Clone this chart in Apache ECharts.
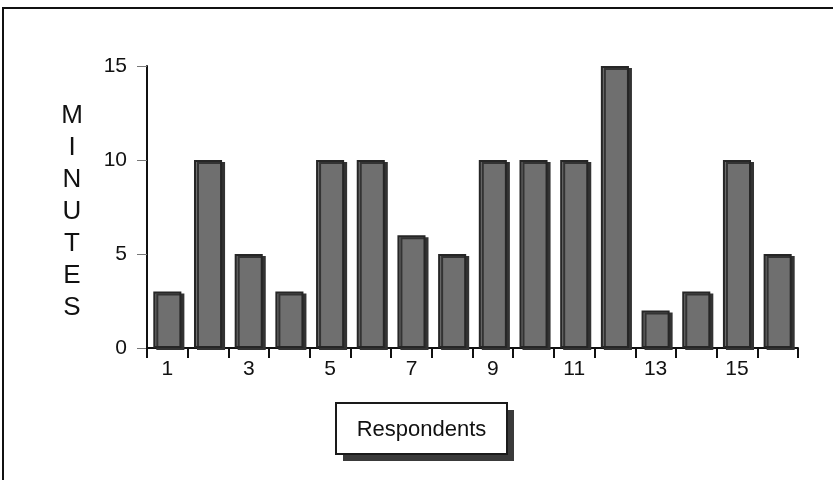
<!DOCTYPE html>
<html>
<head>
<meta charset="utf-8">
<style>
  html, body { margin: 0; padding: 0; background: #fff; }
  #chart { width: 833px; height: 480px; }
</style>
<script src="https://cdn.jsdelivr.net/npm/echarts@6/dist/echarts.min.js"></script>
</head>
<body>
<div id="chart"></div>
<script>
// Minutes reported by each respondent
const respondents = ['1','2','3','4','5','6','7','8','9','10','11','12','13','14','15','16'];
const minutes = [3, 10, 5, 3, 10, 10, 6, 5, 10, 10, 10, 15, 2, 3, 10, 5];
const yTicks = { min: 0, max: 15, interval: 5 };
const axisTitle = 'Respondents';
const valueTitle = 'MINUTES';

const FONT = '"Liberation Sans", Arial, Helvetica, sans-serif';
const chart = echarts.init(document.getElementById('chart'), null, { renderer: 'canvas' });

chart.setOption({
  backgroundColor: '#ffffff',
  animation: false,
  grid: { left: 147, right: 35, top: 66, bottom: 132, containLabel: false },
  xAxis: {
    type: 'category',
    data: respondents,
    boundaryGap: true,
    axisLine: { lineStyle: { color: '#111', width: 2 } },
    axisTick: { show: true, interval: 0, length: 10, inside: false, lineStyle: { color: '#111', width: 2 } },
    axisLabel: { interval: 1, margin: 11, fontFamily: FONT, fontSize: 21, color: '#111' },
    splitLine: { show: false }
  },
  yAxis: {
    type: 'value',
    min: yTicks.min,
    max: yTicks.max,
    interval: yTicks.interval,
    axisLine: { show: true, lineStyle: { color: '#111', width: 2 } },
    axisTick: { show: true, length: 10, lineStyle: { color: '#777', width: 1 } },
    axisLabel: { margin: 20, fontFamily: FONT, fontSize: 21, color: '#111' },
    splitLine: { show: false }
  },
  series: [{
    type: 'bar',
    data: minutes,
    barWidth: '69%',
    itemStyle: {
      color: '#6f6f6f',
      borderColor: '#262626',
      borderWidth: 2,
      shadowColor: '#333333',
      shadowBlur: 0,
      shadowOffsetX: 3,
      shadowOffsetY: 2
    }
  }],
  graphic: [
    {
      // page frame
      type: 'rect',
      silent: true,
      shape: { x: 3, y: 8, width: 900, height: 600 },
      style: { fill: 'none', stroke: '#111', lineWidth: 2 }
    },
    {
      // vertical value-axis title, one letter per line
      type: 'text',
      x: 72,
      y: 212,
      style: {
        text: valueTitle.split('').join('\n'),
        fontFamily: FONT, fontSize: 26, lineHeight: 32, fill: '#111',
        align: 'center', verticalAlign: 'middle'
      }
    },
    {
      // caption box with drop shadow
      type: 'group',
      left: 335,
      top: 402,
      children: [
        { type: 'rect', shape: { x: 7, y: 7, width: 171, height: 51 }, style: { fill: '#3a3a3a' } },
        { type: 'rect', shape: { x: 0, y: 0, width: 171, height: 51 }, style: { fill: '#ffffff', stroke: '#1a1a1a', lineWidth: 2 } },
        { type: 'text', x: 85.5, y: 27, style: { text: axisTitle, fontFamily: FONT, fontSize: 22, fill: '#111', align: 'center', verticalAlign: 'middle' } }
      ]
    }
  ]
});
</script>
</body>
</html>
